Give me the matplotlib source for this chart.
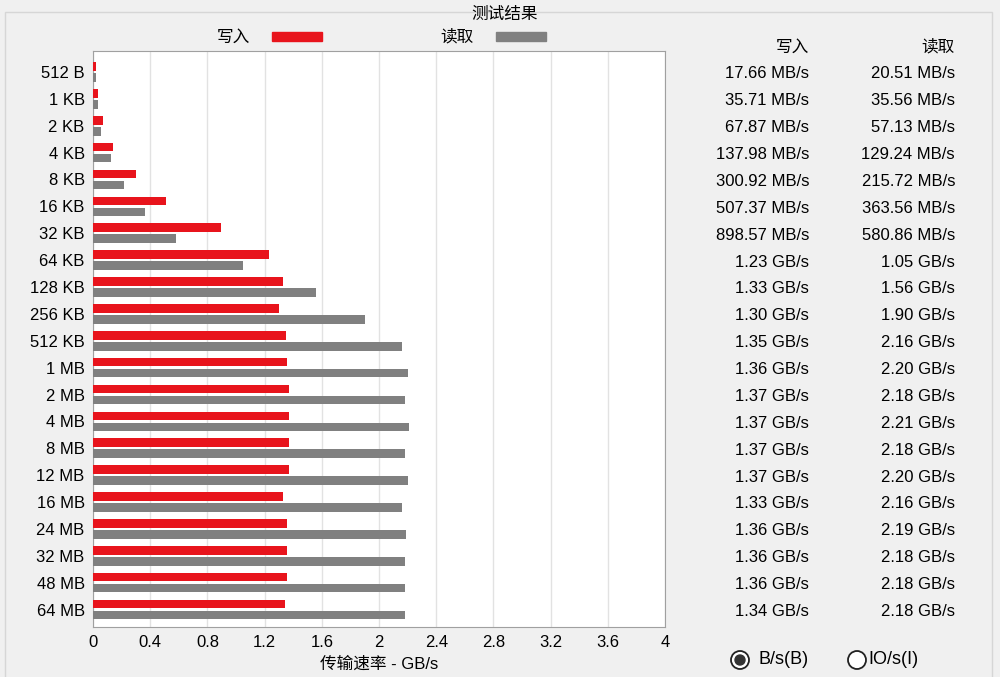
import numpy as np
import matplotlib.pyplot as plt
from matplotlib.patches import Rectangle, Ellipse

plt.rcParams['font.family'] = ['Liberation Sans', 'Noto Sans CJK SC', 'DejaVu Sans']

# block sizes and measured speeds (GB/s)
sizes = ['512 B', '1 KB', '2 KB', '4 KB', '8 KB', '16 KB', '32 KB', '64 KB',
         '128 KB', '256 KB', '512 KB', '1 MB', '2 MB', '4 MB', '8 MB', '12 MB',
         '16 MB', '24 MB', '32 MB', '48 MB', '64 MB']
write_gbs = [0.01766, 0.03571, 0.06787, 0.13798, 0.30092, 0.50737, 0.89857, 1.23,
             1.33, 1.30, 1.35, 1.36, 1.37, 1.37, 1.37, 1.37, 1.33, 1.36, 1.36, 1.36, 1.34]
read_gbs = [0.02051, 0.03556, 0.05713, 0.12924, 0.21572, 0.36356, 0.58086, 1.05,
            1.56, 1.90, 2.16, 2.20, 2.18, 2.21, 2.18, 2.20, 2.16, 2.19, 2.18, 2.18, 2.18]
write_txt = ['17.66 MB/s', '35.71 MB/s', '67.87 MB/s', '137.98 MB/s', '300.92 MB/s',
             '507.37 MB/s', '898.57 MB/s', '1.23 GB/s', '1.33 GB/s', '1.30 GB/s',
             '1.35 GB/s', '1.36 GB/s', '1.37 GB/s', '1.37 GB/s', '1.37 GB/s',
             '1.37 GB/s', '1.33 GB/s', '1.36 GB/s', '1.36 GB/s', '1.36 GB/s', '1.34 GB/s']
read_txt = ['20.51 MB/s', '35.56 MB/s', '57.13 MB/s', '129.24 MB/s', '215.72 MB/s',
            '363.56 MB/s', '580.86 MB/s', '1.05 GB/s', '1.56 GB/s', '1.90 GB/s',
            '2.16 GB/s', '2.20 GB/s', '2.18 GB/s', '2.21 GB/s', '2.18 GB/s',
            '2.20 GB/s', '2.16 GB/s', '2.19 GB/s', '2.18 GB/s', '2.18 GB/s', '2.18 GB/s']
xticks = [0, 0.4, 0.8, 1.2, 1.6, 2, 2.4, 2.8, 3.2, 3.6, 4]

red = '#e8141c'
gray = '#808080'
bg = '#f0f0f0'
W, H = 1000, 677

fig = plt.figure(figsize=(10, 6.77), dpi=100, facecolor=bg)

# panel border
fig.add_artist(Rectangle((0.005, -0.05), 0.987, 1 - 12 / H + 0.05,
                         transform=fig.transFigure, fill=False,
                         edgecolor='#d6d6d6', lw=1))

ax = fig.add_axes([0.093, 1 - 627 / H, 0.572, 576 / H])
ax.set_facecolor('white')

y = np.arange(len(sizes))
ax.barh(y - 0.205, write_gbs, height=0.32, color=red, zorder=3)
ax.barh(y + 0.205, read_gbs, height=0.32, color=gray, zorder=3)

ax.set_xlim(0, 4)
ax.set_ylim(20.65, -0.78)
ax.set_xticks(xticks)
ax.set_xticklabels([f'{t:g}' for t in xticks], fontsize=12)
ax.set_yticks(y)
ax.set_yticklabels(sizes, fontsize=12)
ax.tick_params(length=0, pad=6)
ax.tick_params(axis='x', pad=6)
ax.grid(axis='x', color='#e2e2e2', lw=1, zorder=0)
for s in ax.spines.values():
    s.set_color('#a0a0a0')
ax.set_xlabel('传输速率 - GB/s', fontsize=12, labelpad=4)

# title and legend
fig.text(0.505, 1 - 14 / H, '测试结果', ha='center', va='center', fontsize=12)
fig.text(0.25, 1 - 37 / H, '写入', ha='right', va='center', fontsize=12)
fig.add_artist(Rectangle((0.272, 1 - 41 / H), 0.05, 9 / H,
                         transform=fig.transFigure, color=red))
fig.text(0.474, 1 - 37 / H, '读取', ha='right', va='center', fontsize=12)
fig.add_artist(Rectangle((0.496, 1 - 41 / H), 0.05, 9 / H,
                         transform=fig.transFigure, color=gray))

# results table on the right
fig.text(0.809, 1 - 47 / H, '写入', ha='right', va='center', fontsize=12)
fig.text(0.955, 1 - 47 / H, '读取', ha='right', va='center', fontsize=12)
for i in range(len(sizes)):
    ty = 1 - (74 + i * 26.87) / H
    fig.text(0.809, ty, write_txt[i], ha='right', va='center', fontsize=12)
    fig.text(0.955, ty, read_txt[i], ha='right', va='center', fontsize=12)

# unit radio buttons
def radio(cx, cy, checked):
    fig.add_artist(Ellipse((cx / W, 1 - cy / H), 18 / W, 18 / H,
                           transform=fig.transFigure, facecolor='white',
                           edgecolor='#222222', lw=1.3))
    if checked:
        fig.add_artist(Ellipse((cx / W, 1 - cy / H), 10 / W, 10 / H,
                               transform=fig.transFigure, color='#333333'))

radio(740, 660, True)
fig.text(0.759, 1 - 660 / H, 'B/s(B)', ha='left', va='center', fontsize=13)
radio(857, 660, False)
fig.text(0.868, 1 - 660 / H, 'IO/s(I)', ha='left', va='center', fontsize=13)

fig.savefig('out.png', dpi=100, facecolor=bg)
